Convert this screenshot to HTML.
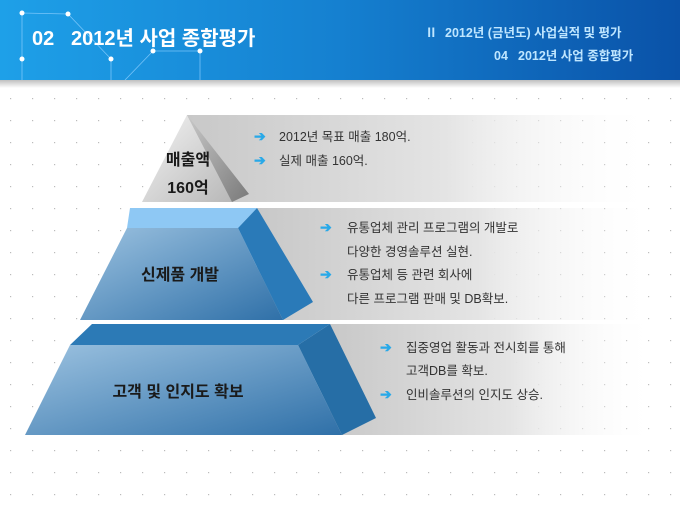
<!DOCTYPE html>
<html><head><meta charset="utf-8">
<style>
html,body{margin:0;padding:0;width:680px;height:510px;overflow:hidden;background:#fff;}
text{font-family:"Liberation Sans","Noto Sans CJK KR",sans-serif;}
</style></head>
<body>
<svg width="680" height="510" viewBox="0 0 680 510" xmlns="http://www.w3.org/2000/svg">
<defs>
<pattern id="dots" width="22" height="22" patternUnits="userSpaceOnUse">
<rect x="10" y="10" width="1.2" height="1.2" fill="#bbb"/>
</pattern>
<linearGradient id="hdr" x1="0" y1="0" x2="1" y2="0">
<stop offset="0" stop-color="#1ea0e8"/><stop offset="0.5" stop-color="#1580d0"/><stop offset="1" stop-color="#0a52a8"/>
</linearGradient>
<linearGradient id="hdrsh" x1="0" y1="0" x2="0" y2="1">
<stop offset="0" stop-color="#000" stop-opacity="0.25"/><stop offset="1" stop-color="#000" stop-opacity="0"/>
</linearGradient>
<linearGradient id="band" x1="0" y1="0" x2="1" y2="0">
<stop offset="0" stop-color="#c8c8c8"/><stop offset="0.55" stop-color="#e4e4e4"/><stop offset="1" stop-color="#fff" stop-opacity="0"/>
</linearGradient>
<linearGradient id="gfront" x1="0" y1="0" x2="1" y2="1">
<stop offset="0" stop-color="#f4f4f4"/><stop offset="1" stop-color="#b8b8b8"/>
</linearGradient>
<linearGradient id="gside" x1="0" y1="0" x2="1" y2="1">
<stop offset="0" stop-color="#c8c8c8"/><stop offset="1" stop-color="#7a7a7a"/>
</linearGradient>
<linearGradient id="bfront" x1="0" y1="0" x2="1" y2="1">
<stop offset="0" stop-color="#9cc2e0"/><stop offset="1" stop-color="#2f70a8"/>
</linearGradient>
</defs>
<rect width="680" height="510" fill="#fff"/>
<rect y="80" width="680" height="430" fill="url(#dots)"/>
<rect width="680" height="80" fill="url(#hdr)"/>
<rect y="80" width="680" height="8" fill="url(#hdrsh)"/>
<g stroke="#8fd0ff" stroke-width="0.8" fill="none" opacity="0.8">
<polyline points="22,80 22,13 68,14 111,59 111,80"/>
<polyline points="125,80 153,51 200,51 200,80"/>
</g>
<g fill="#fff"><circle cx="22" cy="13" r="2.5"/><circle cx="68" cy="14" r="2.5"/><circle cx="22" cy="59" r="2.5"/><circle cx="111" cy="59" r="2.5"/><circle cx="153" cy="51" r="2.5"/><circle cx="200" cy="51" r="2.5"/></g>
<text x="32" y="45" font-size="20" font-weight="bold" fill="#fff">02</text>
<text x="71" y="45" font-size="20" font-weight="bold" fill="#fff">2012년 사업 종합평가</text>
<text x="425" y="37" font-size="12.5" font-weight="bold" fill="#bfe6ff">Ⅱ</text>
<text x="445" y="37" font-size="12.5" font-weight="bold" fill="#bfe6ff">2012년 (금년도) 사업실적 및 평가</text>
<text x="494" y="60" font-size="12.5" font-weight="bold" fill="#bfe6ff">04</text>
<text x="518" y="60" font-size="12.5" font-weight="bold" fill="#bfe6ff">2012년 사업 종합평가</text>
<rect x="187" y="115" width="470" height="87" fill="url(#band)"/>
<rect x="257" y="208" width="400" height="112" fill="url(#band)"/>
<rect x="330" y="324" width="327" height="111" fill="url(#band)"/>
<polygon points="187,115 142,202 232,202" fill="url(#gfront)"/>
<polygon points="187,115 249,194 232,202" fill="url(#gside)"/>
<polygon points="130,208 257,208 238,228 127,228" fill="#8ec8f4"/>
<polygon points="127,228 238,228 283,320 80,320" fill="url(#bfront)"/>
<polygon points="238,228 257,208 313,302 283,320" fill="#2a7ab8"/>
<polygon points="92,324 330,324 298,345 70,345" fill="#2c7ab6"/>
<polygon points="70,345 298,345 342,435 25,435" fill="url(#bfront)"/>
<polygon points="298,345 330,324 376,418 342,435" fill="#266ea6"/>
<g font-size="16" font-weight="bold" fill="#1a1a1a" text-anchor="middle">
<text x="188" y="165">매출액</text>
<text x="188" y="193">160억</text>
<text x="180" y="280">신제품 개발</text>
<text x="178" y="397">고객 및 인지도 확보</text>
</g>
<g font-size="14" font-weight="bold" fill="#29a9e8">
<text x="254" y="141">➔</text><text x="254" y="165">➔</text>
<text x="320" y="232">➔</text><text x="320" y="279">➔</text>
<text x="380" y="352">➔</text><text x="380" y="399">➔</text>
</g>
<g font-size="12.5" fill="#333">
<text x="279" y="141">2012년 목표 매출 180억.</text>
<text x="279" y="165">실제 매출 160억.</text>
<text x="347" y="232">유통업체 관리 프로그램의 개발로</text>
<text x="347" y="256">다양한 경영솔루션 실현.</text>
<text x="347" y="279">유통업체 등 관련 회사에</text>
<text x="347" y="303">다른 프로그램 판매 및 DB확보.</text>
<text x="406" y="352">집중영업 활동과 전시회를 통해</text>
<text x="406" y="375">고객DB를 확보.</text>
<text x="406" y="399">인비솔루션의 인지도 상승.</text>
</g>
</svg>
</body></html>
